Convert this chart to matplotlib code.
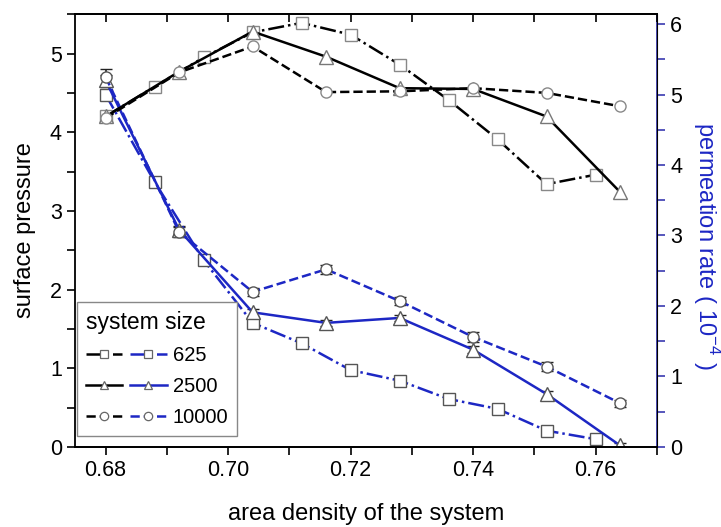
import matplotlib.pyplot as plt
from matplotlib.legend_handler import HandlerTuple
from matplotlib.lines import Line2D
from matplotlib.ticker import MultipleLocator

plt.rcParams['font.family'] = ['Liberation Sans', 'DejaVu Sans']
plt.rcParams['mathtext.fontset'] = 'custom'
plt.rcParams['mathtext.rm'] = 'Liberation Sans'

BLUE = '#1d27c4'
SPINE_BLUE = '#3a3ab0'

# surface pressure (left axis)
x_625 = [0.680, 0.688, 0.696, 0.704, 0.712, 0.720, 0.728, 0.736, 0.744, 0.752, 0.760]
p_625 = [4.20, 4.58, 4.95, 5.27, 5.39, 5.24, 4.86, 4.41, 3.91, 3.34, 3.46]

x_big = [0.680, 0.692, 0.704, 0.716, 0.728, 0.740, 0.752, 0.764]
p_2500 = [4.20, 4.77, 5.28, 4.96, 4.56, 4.55, 4.20, 3.24]
p_10000 = [4.18, 4.76, 5.09, 4.51, 4.52, 4.56, 4.50, 4.33]

# permeation rate (right axis, units of 1e-4)
r_625 = [5.00, 3.76, 2.65, 1.76, 1.47, 1.09, 0.94, 0.68, 0.54, 0.23, 0.11]
e_625 = [0.08, 0.06, 0.06, 0.05, 0.04, 0.04, 0.04, 0.04, 0.05, 0.04, 0.03]
r_2500 = [5.20, 3.08, 1.91, 1.76, 1.83, 1.38, 0.75, 0.02]
e_2500 = [0.08, 0.06, 0.05, 0.04, 0.04, 0.05, 0.05, 0.03]
r_10000 = [5.25, 3.05, 2.20, 2.52, 2.07, 1.56, 1.14, 0.62]
e_10000 = [0.11, 0.07, 0.06, 0.06, 0.06, 0.07, 0.06, 0.05]

fig = plt.figure(figsize=(7.21, 5.27), dpi=100)
ax = fig.add_axes([0.104, 0.152, 0.807, 0.821])
ax2 = ax.twinx()

mk = dict(markerfacecolor='white', markersize=8, markeredgewidth=1.0)

# black curves: surface pressure
ax.plot(x_625, p_625, color='black', ls='-.', lw=1.8, marker='s',
        markeredgecolor='#888888', **mk)
ax.plot(x_big, p_2500, color='black', ls='-', lw=1.8, marker='^',
        markeredgecolor='#777777', markersize=10, markerfacecolor='white',
        markeredgewidth=1.0)
ax.plot(x_big, p_10000, color='black', ls='--', lw=1.8, marker='o',
        markeredgecolor='#888888', **mk)

# blue curves: permeation rate with error bars
eb = dict(ecolor='#222222', elinewidth=1.2, capsize=4, capthick=1.5)
ax2.errorbar(x_625, r_625, yerr=e_625, color=BLUE, ls='-.', lw=1.8,
             marker='s', markeredgecolor='#555555', **mk, **eb)
ax2.errorbar(x_big, r_2500, yerr=e_2500, color=BLUE, ls='-', lw=1.8,
             marker='^', markeredgecolor='#555555', markersize=10,
             markerfacecolor='white', markeredgewidth=1.0, **eb)
ax2.errorbar(x_big, r_10000, yerr=e_10000, color=BLUE, ls='--', lw=1.8,
             marker='o', markeredgecolor='#555555', **mk, **eb)

ax.set_xlim(0.675, 0.770)
ax.set_ylim(0, 5.5)
ax2.set_ylim(0, 6.14)

ax.xaxis.set_major_locator(MultipleLocator(0.02))
ax.xaxis.set_minor_locator(MultipleLocator(0.01))
ax.yaxis.set_major_locator(MultipleLocator(1))
ax.yaxis.set_minor_locator(MultipleLocator(0.5))
ax2.yaxis.set_major_locator(MultipleLocator(1))
ax2.yaxis.set_minor_locator(MultipleLocator(0.5))
ax.xaxis.set_major_formatter(lambda v, p: f'{v:.2f}')

ax.tick_params(axis='both', which='both', direction='out', length=6,
               width=1.2, labelsize=15.5)
ax.tick_params(axis='x', which='both', top=True)
for t in ax.xaxis.get_major_ticks() + ax.xaxis.get_minor_ticks():
    t.tick2line.set_marker(3)  # top ticks pointing inward
ax2.tick_params(axis='y', which='both', direction='out', length=6, width=1.2,
                labelsize=15.5, color=SPINE_BLUE, labelcolor='black')

for s in ['left', 'bottom', 'top']:
    ax.spines[s].set_linewidth(1.3)
ax2.spines['right'].set_color(SPINE_BLUE)
ax2.spines['right'].set_linewidth(1.3)
ax2.spines['left'].set_visible(False)
ax2.spines['top'].set_linewidth(1.3)
ax2.spines['bottom'].set_linewidth(1.3)

ax.set_xlabel('area density of the system', fontsize=17, labelpad=16)
ax.set_ylabel('surface pressure', fontsize=17, labelpad=10)
ax2.set_ylabel('permeation rate ( 10$^{-4}$ )', fontsize=17, color=BLUE,
               rotation=270, va='center')
ax2.yaxis.set_label_coords(1.086, 0.465)

# legend: black / blue pair for each system size
lmk = dict(markerfacecolor='white', markersize=6, markeredgewidth=0.9,
           markeredgecolor='#666666', lw=1.8)
handles = []
for m, ls in [('s', '-.'), ('^', '-'), ('o', '--')]:
    k = Line2D([], [], color='black', ls=ls, marker=m, **lmk)
    b = Line2D([], [], color=BLUE, ls=ls, marker=m, **lmk)
    handles.append((k, b))
leg = ax.legend(handles, ['625', '2500', '10000'], title='system size',
                handler_map={tuple: HandlerTuple(ndivide=None, pad=0.4)},
                loc='lower left', bbox_to_anchor=(0.0, 0.02),
                fontsize=14.5, title_fontsize=16.5, fancybox=False,
                edgecolor='#888888', framealpha=1, handlelength=4.0,
                handletextpad=0.3, labelspacing=0.6, borderpad=0.45,
                borderaxespad=0.1, alignment='left')
leg.get_frame().set_linewidth(1.0)
leg.set_zorder(10)
ax.set_zorder(ax2.get_zorder() + 1)
ax.patch.set_visible(False)

fig.savefig('out.png', dpi=100)
